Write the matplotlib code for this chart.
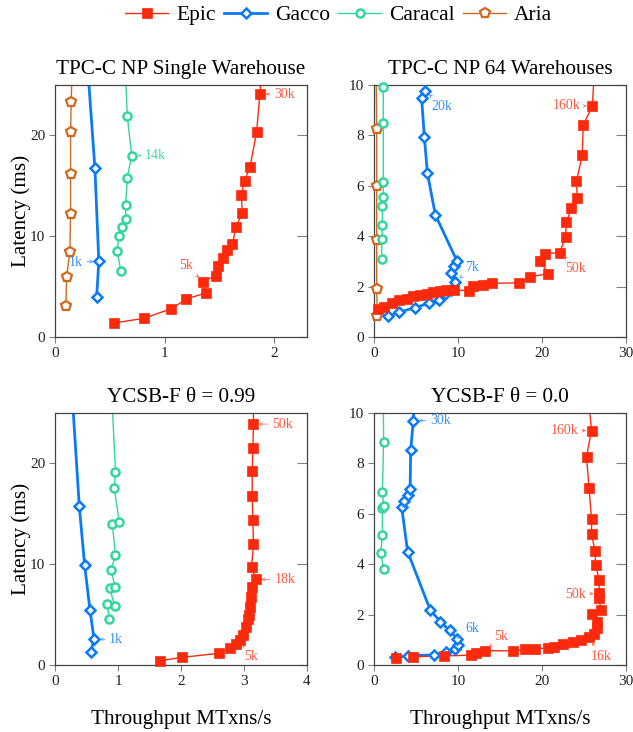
import matplotlib
matplotlib.use("Agg")
import matplotlib.pyplot as plt
from matplotlib.lines import Line2D

plt.rcParams['font.family'] = ['Liberation Serif', 'DejaVu Serif']
plt.rcParams['mathtext.fontset'] = 'stix'

series_names = ["Epic", "Gacco", "Caracal", "Aria"]
panel_titles = ["TPC-C NP Single Warehouse", "TPC-C NP 64 Warehouses",
                "YCSB-F θ = 0.99", "YCSB-F θ = 0.0"]
xlabel_text = "Throughput MTxns/s"
ylabel_text = "Latency (ms)"

# ---- TPC-C NP Single Warehouse ----
p1_epic_x = [0.54, 0.81, 1.06, 1.20, 1.376, 1.35, 1.47, 1.49, 1.53, 1.57, 1.62, 1.65, 1.71, 1.70, 1.73, 1.78, 1.84, 1.87, 1.89]
p1_epic_y = [1.39, 1.85, 2.8, 3.77, 4.37, 5.5, 6.1, 7.0, 7.8, 8.6, 9.2, 10.9, 12.3, 14.1, 15.5, 16.9, 20.3, 24.1, 27.0]
p1_gacco_x = [0.38, 0.40, 0.364, 0.29]
p1_gacco_y = [3.98, 7.5, 16.8, 28.0]
p1_caracal_x = [0.60, 0.57, 0.58, 0.615, 0.645, 0.645, 0.66, 0.70, 0.66, 0.64]
p1_caracal_y = [6.5, 8.56, 10.0, 10.9, 11.7, 13.1, 15.8, 18.0, 21.9, 27.0]
p1_aria_x = [0.10, 0.106, 0.136, 0.142, 0.142, 0.142, 0.148, 0.157]
p1_aria_y = [3.05, 5.97, 8.46, 12.2, 16.15, 20.3, 23.3, 27.0]

# ---- TPC-C NP 64 Warehouses ----
p2_epic_x = [0.5, 1.2, 2.2, 3.0, 3.9, 4.6, 5.5, 6.3, 7.0, 7.8, 8.6, 9.5, 11.3, 11.8, 13.0, 14.1,
             17.3, 18.6, 20.75, 19.8, 20.3, 22.1, 22.8, 22.9, 23.5, 24.2, 24.1, 24.8, 24.9, 26.0, 26.3]
p2_epic_y = [1.1, 1.2, 1.35, 1.45, 1.5, 1.62, 1.68, 1.72, 1.78, 1.82, 1.85, 1.88, 1.83, 2.03, 2.07, 2.13,
             2.15, 2.39, 2.51, 3.0, 3.3, 3.35, 3.96, 4.55, 5.1, 5.53, 6.19, 7.22, 8.4, 9.17, 11.0]
p2_gacco_x = [1.7, 3.0, 4.9, 6.5, 7.7, 8.4, 9.2, 9.7, 9.2, 9.5, 9.9, 7.3, 6.35, 6.0, 5.67, 6.1]
p2_gacco_y = [0.83, 0.98, 1.17, 1.33, 1.48, 1.7, 1.87, 2.18, 2.55, 2.8, 3.0, 4.85, 6.52, 7.92, 9.47, 9.78]
p2_caracal_x = [0.9, 0.95, 1.0, 1.0, 1.1, 1.1, 1.1, 1.1, 1.1, 1.1]
p2_caracal_y = [3.08, 3.9, 4.44, 5.2, 5.55, 6.14, 8.5, 9.93, 11.0, 12.0]
p2_aria_x = [0.4, 0.32, 0.32, 0.32, 0.32, 0.25]
p2_aria_y = [0.84, 1.9, 3.83, 6.0, 8.24, 11.0]

# ---- YCSB-F theta = 0.99 ----
p3_epic_x = [1.67, 2.02, 2.6, 2.78, 2.87, 2.93, 2.98, 3.03, 3.07, 3.08, 3.10, 3.11, 3.12, 3.19,
             3.12, 3.15, 3.14, 3.13, 3.13, 3.14, 3.15, 3.15]
p3_epic_y = [0.43, 0.76, 1.16, 1.7, 2.1, 2.5, 3.0, 3.8, 4.55, 5.0, 5.8, 6.7, 7.7, 8.5,
             9.7, 12.0, 14.35, 16.8, 19.2, 21.5, 23.9, 27.0]
p3_gacco_x = [0.57, 0.62, 0.555, 0.47, 0.385, 0.26]
p3_gacco_y = [1.33, 2.55, 5.47, 9.92, 15.8, 28.0]
p3_caracal_x = [0.86, 0.83, 0.945, 0.87, 0.955, 0.89, 0.96, 0.91, 1.02, 0.94, 0.96, 0.90]
p3_caracal_y = [4.6, 6.05, 5.9, 7.6, 7.7, 9.45, 10.9, 14.0, 14.2, 17.6, 19.1, 27.0]

# ---- YCSB-F theta = 0.0 ----
p4_epic_x = [2.6, 4.6, 8.3, 11.5, 12.2, 13.2, 16.6, 18.0, 19.2, 20.7, 21.4, 22.5, 23.7, 24.7, 25.6, 26.2,
             26.6, 26.6, 25.9, 27.0, 26.8, 26.8, 26.8, 26.4, 26.3, 25.9, 25.9, 25.6, 25.3, 25.9, 25.4]
p4_epic_y = [0.29, 0.33, 0.36, 0.39, 0.49, 0.57, 0.56, 0.62, 0.65, 0.67, 0.72, 0.82, 0.9, 1.0, 1.1, 1.25,
             1.45, 1.7, 2.02, 2.2, 2.64, 2.84, 3.38, 3.97, 4.54, 5.2, 5.78, 7.01, 8.27, 9.3, 11.0]
p4_gacco_x = [2.5, 4.1, 7.2, 8.6, 9.6, 10.0, 9.9, 9.0, 7.9, 6.7, 4.0, 3.3, 3.6, 4.0, 4.3, 4.37, 4.68, 4.85]
p4_gacco_y = [0.3, 0.37, 0.4, 0.52, 0.62, 0.8, 1.05, 1.37, 1.72, 2.18, 4.5, 6.26, 6.52, 6.73, 7.0, 8.53, 9.7, 11.0]
p4_caracal_x = [1.14, 0.8, 1.0, 1.0, 1.14, 1.0, 1.14, 1.1]
p4_caracal_y = [3.8, 4.46, 5.16, 6.25, 6.3, 6.85, 8.86, 11.0]

colors = {"Epic": "#fb2a0c", "Gacco": "#0a7af9", "Caracal": "#33d69c", "Aria": "#d0691f"}
label_colors = {"Epic": "#fc5a40", "Gacco": "#3b91f7", "Caracal": "#45d8a5", "Aria": "#d0691f"}
styles = {
    "Epic": dict(marker="s", lw=1.0, ms=6.8, mfc=colors["Epic"], mew=0.5),
    "Gacco": dict(marker="D", lw=2.0, ms=5.2, mfc="white", mew=1.8),
    "Caracal": dict(marker="o", lw=1.0, ms=5.8, mfc="white", mew=1.8),
    "Aria": dict(marker="p", lw=1.0, ms=7.2, mfc="white", mew=1.6),
}

fig = plt.figure(figsize=(6.33, 7.32), dpi=100)
W, H = 633, 732
def axpos(x0, y0, x1, y1):
    return [x0 / W, 1 - y1 / H, (x1 - x0) / W, (y1 - y0) / H]

axes = [fig.add_axes(axpos(55, 85, 307, 337)), fig.add_axes(axpos(374, 85, 626, 337)),
        fig.add_axes(axpos(55, 413, 307, 665)), fig.add_axes(axpos(374, 413, 626, 665))]

panels = [
    {"Epic": (p1_epic_x, p1_epic_y), "Gacco": (p1_gacco_x, p1_gacco_y),
     "Caracal": (p1_caracal_x, p1_caracal_y), "Aria": (p1_aria_x, p1_aria_y)},
    {"Epic": (p2_epic_x, p2_epic_y), "Gacco": (p2_gacco_x, p2_gacco_y),
     "Caracal": (p2_caracal_x, p2_caracal_y), "Aria": (p2_aria_x, p2_aria_y)},
    {"Epic": (p3_epic_x, p3_epic_y), "Gacco": (p3_gacco_x, p3_gacco_y),
     "Caracal": (p3_caracal_x, p3_caracal_y)},
    {"Epic": (p4_epic_x, p4_epic_y), "Gacco": (p4_gacco_x, p4_gacco_y),
     "Caracal": (p4_caracal_x, p4_caracal_y)},
]
xlims = [(0, 2.3), (0, 30), (0, 4), (0, 30)]
ylims = [(0, 25), (0, 10), (0, 25), (0, 10)]
xticks = [[0, 1, 2], [0, 10, 20, 30], [0, 1, 2, 3, 4], [0, 10, 20, 30]]
yticks = [[0, 10, 20], [0, 2, 4, 6, 8, 10], [0, 10, 20], [0, 2, 4, 6, 8, 10]]

draw_order = ["Aria", "Caracal", "Gacco", "Epic"]
for i, ax in enumerate(axes):
    data = panels[i]
    for name in draw_order:
        if name not in data:
            continue
        xs, ys = data[name]
        st = styles[name]
        ax.plot(xs, ys, color=colors[name], lw=st["lw"], zorder=2)
        inx = [x for x, y in zip(xs, ys) if y <= ylims[i][1]]
        iny = [y for x, y in zip(xs, ys) if y <= ylims[i][1]]
        ax.plot(inx, iny, ls="none", marker=st["marker"], ms=st["ms"], mfc=st["mfc"],
                mec=colors[name], mew=st["mew"], zorder=3, clip_on=False)
    ax.set_xlim(*xlims[i])
    ax.set_ylim(*ylims[i])
    ax.set_xticks(xticks[i])
    ax.set_yticks(yticks[i])
    ax.tick_params(axis="both", which="both", labelsize=11, colors="#7f7f7f",
                   labelcolor="#222222", width=0.8)
    ax.tick_params(axis="x", direction="out", length=4, top=False, pad=3)
    ax.tick_params(axis="y", direction="out", length=4, left=True, right=False, pad=3)
    ax2 = ax.secondary_yaxis("right")
    ax2.set_yticks(yticks[i])
    ax2.tick_params(direction="in", length=7, colors="#7f7f7f", labelright=False, width=0.8)
    ax2.spines["right"].set_visible(False)
    for s in ax.spines.values():
        s.set_color("#444444")
        s.set_linewidth(0.9)
    ax.set_title(panel_titles[i], fontsize=15.2, pad=8)
    if i in (0, 2):
        ax.set_ylabel(ylabel_text, fontsize=15.2, labelpad=-1)
    if i in (2, 3):
        ax.set_xlabel(xlabel_text, fontsize=15.2, labelpad=16)

def note(ax, name, text, xy, xytext, ha="left", va="center"):
    c = label_colors[name]
    ax.annotate(text, xy=xy, xytext=xytext, color=c, fontsize=10, ha=ha, va=va,
                arrowprops=dict(arrowstyle="->", color=c, lw=0.5, shrinkA=1, shrinkB=4,
                                mutation_scale=5), zorder=5, annotation_clip=False)

a1, a2, a3, a4 = axes
note(a1, "Epic", "30k", (1.87, 24.1), (2.0, 24.1))
note(a1, "Epic", "5k", (1.35, 5.5), (1.2, 7.1), ha="center")
note(a1, "Caracal", "14k", (0.70, 18.0), (0.82, 18.0))
note(a1, "Gacco", "1k", (0.40, 7.5), (0.25, 7.4), ha="right")

note(a2, "Gacco", "20k", (6.1, 9.78), (6.8, 9.15))
note(a2, "Gacco", "7k", (9.7, 2.18), (10.8, 2.75))
note(a2, "Epic", "160k", (26.0, 9.17), (24.6, 9.17), ha="right")
note(a2, "Epic", "50k", (22.1, 3.35), (22.8, 2.73))

note(a3, "Epic", "50k", (3.15, 23.9), (3.45, 23.9))
note(a3, "Epic", "18k", (3.19, 8.5), (3.48, 8.5))
note(a3, "Epic", "5k", (2.93, 2.5), (3.0, 0.85))
note(a3, "Gacco", "1k", (0.62, 2.55), (0.86, 2.55))

note(a4, "Gacco", "30k", (4.68, 9.7), (6.7, 9.7))
note(a4, "Gacco", "6k", (9.9, 1.05), (10.9, 1.46))
note(a4, "Epic", "5k", (13.2, 0.57), (14.3, 1.12))
note(a4, "Epic", "16k", (25.6, 1.1), (25.8, 0.33))
note(a4, "Epic", "160k", (25.9, 9.3), (24.3, 9.3), ha="right")
note(a4, "Epic", "50k", (26.8, 2.84), (25.2, 2.8), ha="right")

handles = []
for name in series_names:
    st = styles[name]
    handles.append(Line2D([0], [0], color=colors[name], lw=st["lw"], marker=st["marker"],
                          ms=st["ms"], mfc=st["mfc"], mec=colors[name], mew=st["mew"]))
fig.legend(handles, series_names, loc="center", bbox_to_anchor=(0.535, 1 - 15 / H), ncol=4,
           frameon=False, fontsize=15.5, handlelength=2.0, handletextpad=0.35,
           columnspacing=0.4, borderaxespad=0)

fig.savefig("out.png", dpi=100)
